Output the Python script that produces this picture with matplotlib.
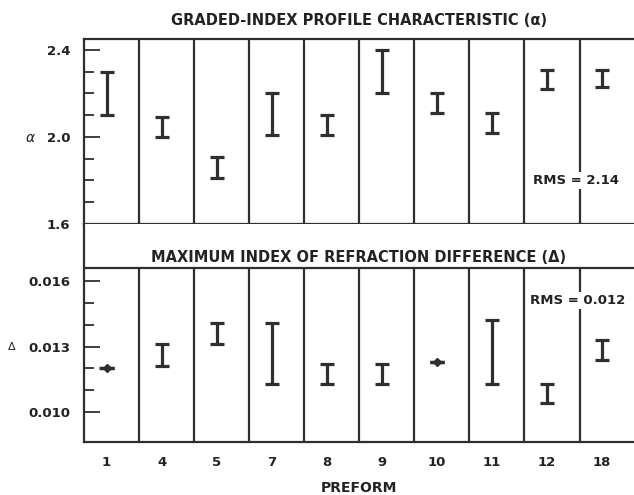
import matplotlib
matplotlib.use("Agg")
import matplotlib.pyplot as plt

# Preform identifiers
preforms = ["1", "4", "5", "7", "8", "9", "10", "11", "12", "18"]

# Graded-index profile characteristic (alpha): measured range per preform
alpha_low = [2.10, 2.00, 1.81, 2.01, 2.01, 2.20, 2.11, 2.02, 2.22, 2.23]
alpha_high = [2.30, 2.09, 1.91, 2.20, 2.10, 2.40, 2.20, 2.11, 2.31, 2.31]

# Maximum index of refraction difference (delta): measured range per preform
delta_low = [0.0120, 0.0121, 0.0131, 0.0113, 0.0113, 0.0113, 0.0123, 0.0113, 0.0104, 0.0124]
delta_high = [0.0120, 0.0131, 0.0141, 0.0141, 0.0122, 0.0122, 0.0123, 0.0142, 0.0113, 0.0133]

alpha_ticks = [1.6, 1.7, 1.8, 1.9, 2.0, 2.1, 2.2, 2.3, 2.4]
alpha_labels = ["1.6", "", "", "", "2.0", "", "", "", "2.4"]
delta_ticks = [0.010, 0.011, 0.012, 0.013, 0.014, 0.015, 0.016]
delta_labels = ["0.010", "", "", "0.013", "", "", "0.016"]

INK = "#2f2f2f"
TXT = "#222222"
W, H = 634, 495
plt.rcParams["font.family"] = ["DejaVu Sans"]
fig = plt.figure(figsize=(W / 100, H / 100), dpi=100)

left = 83.5 / W
ax_top = fig.add_axes([left, 1 - 224 / H, 1 - left, (224 - 39) / H])
ax_bot = fig.add_axes([left, 1 - 442 / H, 1 - left, (442 - 224) / H])

x = list(range(len(preforms)))
xlim = (-0.42, 9.58)
seps = [i + 0.59 for i in range(len(preforms) - 1)]


def draw_ranges(ax, low, high):
    mid = [(a + b) / 2 for a, b in zip(low, high)]
    half = [(b - a) / 2 for a, b in zip(low, high)]
    ax.errorbar(x, mid, yerr=half, fmt="none", ecolor=INK, elinewidth=2.3,
                capsize=4.8, capthick=2.3, zorder=3)
    # single-valued measurements drawn as a dash with a dot
    for xi, a, b in zip(x, low, high):
        if a == b:
            ax.plot([xi - 0.13, xi + 0.13], [a, a], color=INK, lw=2.3,
                    solid_capstyle="butt", zorder=3)
            ax.plot(xi, a, marker="D", ms=4.5, color=INK, zorder=4)


def style_axis(ax, ticks, labels):
    ax.set_xlim(*xlim)
    ax.set_xticks(x)
    ax.spines["right"].set_visible(False)
    for sp in ax.spines.values():
        sp.set_color(INK)
        sp.set_linewidth(1.6)
    ax.set_yticks(ticks)
    ax.set_yticklabels(labels, fontweight="bold")
    ax.tick_params(axis="y", direction="in", length=11.5, width=1.3,
                   color=INK, labelsize=9.5, pad=9.5, labelcolor=TXT)
    ax.tick_params(axis="x", length=0)
    # unlabelled ticks are shorter
    for t, lab in zip(ax.yaxis.get_major_ticks(), labels):
        if lab == "":
            t.tick1line.set_markersize(7.5)


# ---- top panel: alpha ----
style_axis(ax_top, alpha_ticks, alpha_labels)
ax_top.set_ylim(1.6, 2.4505)
ax_top.set_xticklabels([])
ax_top.vlines(seps, 1.6, 2.4505, color=INK, lw=1.6)
draw_ranges(ax_top, alpha_low, alpha_high)
ax_top.text(0.5, 1.0 + 19 / 185, "GRADED-INDEX PROFILE CHARACTERISTIC (α)",
            transform=ax_top.transAxes, ha="center", va="center",
            fontsize=10.5, fontweight="bold", color=TXT)
ax_top.text(-0.097, 0.5 - (138 - 131.5) / 185, "α", transform=ax_top.transAxes,
            ha="center", va="center", fontsize=10, style="italic", color=TXT)
ax_top.text(8.52, 1.80, "RMS = 2.14", ha="center", va="center", fontsize=9.5,
            fontweight="bold", color=TXT, zorder=5,
            bbox=dict(boxstyle="square,pad=0.15", fc="white", ec="none"))

# ---- bottom panel: delta ----
style_axis(ax_bot, delta_ticks, delta_labels)
ax_bot.spines["top"].set_visible(False)
d_top = 0.0166
ax_bot.set_ylim(0.00863, 0.01861)
ax_bot.axhline(d_top, color=INK, lw=1.6)
ax_bot.vlines(seps, 0.00863, d_top, color=INK, lw=1.6)
draw_ranges(ax_bot, delta_low, delta_high)
ax_bot.set_xticklabels(preforms, fontsize=9.5, fontweight="bold", color=TXT)
ax_bot.tick_params(axis="x", pad=10)
ax_bot.set_xlabel("PREFORM", fontsize=10, fontweight="bold", color=TXT, labelpad=9)
ax_bot.text(0.5, 0.01708, "MAXIMUM INDEX OF REFRACTION DIFFERENCE (Δ)",
            transform=ax_bot.get_yaxis_transform(), ha="center", va="center",
            fontsize=10.5, fontweight="bold", color=TXT)
ax_bot.text(-0.13, 0.013, "Δ", transform=ax_bot.get_yaxis_transform(),
            ha="center", va="center", fontsize=8, color=TXT)
ax_bot.text(8.56, 0.0151, "RMS = 0.012", ha="center", va="center", fontsize=9.5,
            fontweight="bold", color=TXT, zorder=5,
            bbox=dict(boxstyle="square,pad=0.15", fc="white", ec="none"))

fig.savefig("out.png", dpi=100)
